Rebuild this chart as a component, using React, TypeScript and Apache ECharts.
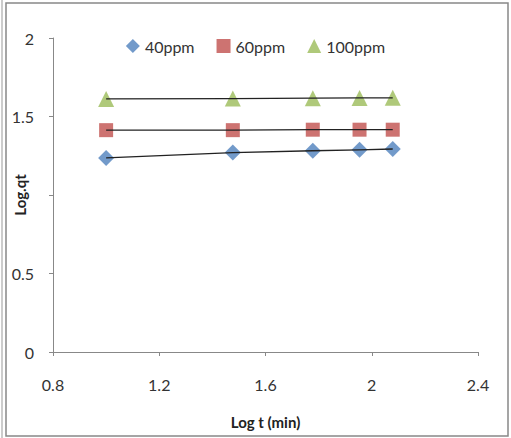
import React, { useEffect, useRef } from "react";
import * as echarts from "echarts";

const logT = [1.0, 1.477, 1.778, 1.954, 2.079];
const s40 = [1.236, 1.27, 1.282, 1.288, 1.293];
const s60 = [1.413, 1.413, 1.416, 1.416, 1.416];
const s100 = [1.612, 1.614, 1.617, 1.618, 1.619];
const seriesNames = ["40ppm", "60ppm", "100ppm"];
const seriesValues = [s40, s60, s100];
const colors = ["#4F81BD", "#C0504D", "#9BBB59"];
const symbols = ["diamond", "rect", "triangle"];
// the "1" label is hidden under the axis title in the reference
const hiddenYLabels = [1];

export default function App() {
  const ref = useRef<HTMLDivElement>(null);
  useEffect(() => {
    if (!ref.current) return;
    const chart = echarts.init(ref.current, undefined, { renderer: "svg" });
    const font = "Lato, 'Liberation Sans', sans-serif";
    const pairs = (vals: number[]) => logT.map((x, i) => [x, vals[i]]);
    const scatter = seriesNames.map((n, i) => ({
      name: n,
      type: "scatter",
      data: pairs(seriesValues[i]),
      symbol: symbols[i],
      symbolSize: symbols[i] === "rect" ? 14 : 16,
      itemStyle: { color: colors[i] },
      z: 2,
    }));
    const lines = seriesNames.map((n, i) => ({
      name: n + " trend",
      type: "line",
      data: pairs(seriesValues[i]),
      symbol: "none",
      lineStyle: { color: "#222", width: 1.3 },
      z: 3,
    }));
    chart.setOption({
      animation: false,
      backgroundColor: "#fff",
      textStyle: { fontFamily: font },
      legend: {
        data: seriesNames,
        top: 33,
        left: "center",
        itemWidth: 14,
        itemHeight: 14,
        itemGap: 22,
        textStyle: { fontSize: 16, color: "#333", fontFamily: font },
      },
      grid: { left: 53, right: 33, top: 38, bottom: 86, outerBoundsMode: "none", containLabel: false },
      xAxis: {
        type: "value",
        min: 0.8,
        max: 2.4,
        interval: 0.4,
        name: "Log t (min)",
        nameLocation: "middle",
        nameGap: 62,
        nameMoveOverlap: false,
        nameTextStyle: { fontSize: 15, fontWeight: "bold", color: "#222" },
        axisLine: { lineStyle: { color: "#888", width: 1 } },
        axisTick: { show: true, length: 4, lineStyle: { color: "#888" } },
        axisLabel: { fontSize: 16, color: "#333", margin: 24, formatter: (v: number) => String(Math.round(v * 10) / 10) },
        splitLine: { show: false },
      },
      yAxis: {
        type: "value",
        min: 0,
        max: 2,
        interval: 0.5,
        name: "Log.qt",
        nameLocation: "middle",
        nameGap: 26,
        nameMoveOverlap: false,
        nameTextStyle: { fontSize: 15, fontWeight: "bold", color: "#222" },
        axisLine: { show: true, lineStyle: { color: "#888", width: 1 } },
        axisTick: { show: true, length: 4, lineStyle: { color: "#888" } },
        axisLabel: {
          fontSize: 16,
          color: "#333",
          margin: 19,
          formatter: (v: number) => (hiddenYLabels.includes(v) ? "" : String(v)),
        },
        splitLine: { show: false },
      },
      graphic: [
        {
          type: "rect",
          shape: { x: 6, y: 3, width: 502, height: 433 },
          style: { fill: "none", stroke: "#888", lineWidth: 1.5 },
          silent: true,
        },
        {
          type: "line",
          shape: { x1: 2, y1: 0, x2: 2, y2: 438 },
          style: { stroke: "#999", lineWidth: 1 },
          silent: true,
        },
      ],
      series: [...scatter, ...lines],
    });
    return () => chart.dispose();
  }, []);
  return (
    <div
      ref={ref}
      style={{ position: "absolute", left: 0, top: 0, width: 511, height: 438 }}
    />
  );
}
